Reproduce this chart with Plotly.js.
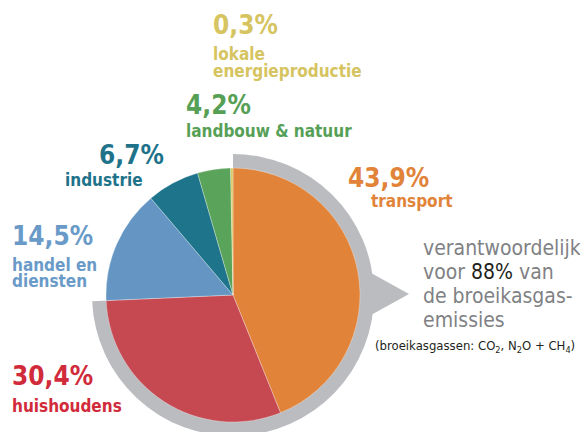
<!DOCTYPE html>
<html>
<head>
<meta charset="utf-8">
<script src="https://cdn.plot.ly/plotly-3.0.1.min.js"></script>
<style>
  html, body { margin: 0; padding: 0; overflow: hidden; background: #ffffff; }
  #chart { width: 580px; height: 440px; }
</style>
</head>
<body>
<div id="chart"></div>
<script>
// ---- data ----
const categories = ['transport', 'huishoudens', 'handel en diensten', 'industrie', 'landbouw & natuur', 'lokale energieproductie'];
const shares = [43.9, 30.4, 14.5, 6.7, 4.2, 0.3];
const pctLabels = ['43,9%', '30,4%', '14,5%', '6,7%', '4,2%', '0,3%'];
const nameLines = [['transport'], ['huishoudens'], ['handel en', 'diensten'], ['industrie'], ['landbouw & natuur'], ['lokale', 'energieproductie']];
const highlightCount = 2; // transport + huishoudens highlighted by grey ring

// ---- styles ----
const sliceColors = ['#E1843A', '#C64952', '#6596C3', '#1E758B', '#59A35A', '#D9C763'];
const textColors  = ['#E1843A', '#D12B3B', '#6A9BC8', '#1E738A', '#56A056', '#D6C460'];
const ringGrey = '#BBBCC0';
const FONT = '"DejaVu Sans Condensed", "DejaVu Sans", sans-serif';

const W = 580, H = 440;
const cx = 233, cy = 295, r = 127, rRing = 141;
const px = x => x / W;
const py = y => 1 - y / H;

// label layout: [x, yPct, yLine1, yLine2...]
const labelPos = [
  {x: 346, xl: 369, yp: 178, yl: [201]},
  {x: 10,  xl: 10,  yp: 376, yl: [406]},
  {x: 10,  xl: 10,  yp: 236, yl: [265, 281]},
  {x: 97,  xl: 63,  yp: 155, yl: [180]},
  {x: 184, xl: 184, yp: 105, yl: [131]},
  {x: 211, xl: 211, yp: 25,  yl: [54, 71]}
];

const ringHighlighted = shares.slice(0, highlightCount).reduce((a, b) => a + b, 0);
const ringRest = shares.slice(highlightCount).reduce((a, b) => a + b, 0);

const traces = [
  {
    type: 'pie',
    values: [ringHighlighted, ringRest],
    labels: ['highlight', 'rest'],
    marker: {colors: [ringGrey, 'rgba(0,0,0,0)'], line: {width: 0}},
    hole: 124 / rRing,
    sort: false, direction: 'clockwise', rotation: 0,
    textinfo: 'none', hoverinfo: 'skip', showlegend: false,
    domain: {x: [px(cx - rRing), px(cx + rRing)], y: [py(cy + rRing), py(cy - rRing)]}
  },
  {
    type: 'pie',
    values: shares,
    labels: categories,
    marker: {colors: sliceColors, line: {color: 'rgba(255,255,255,0.6)', width: 0.5}},
    sort: false, direction: 'clockwise', rotation: 0,
    textinfo: 'none', hoverinfo: 'label+percent', showlegend: false,
    domain: {x: [px(cx - r), px(cx + r)], y: [py(cy + r), py(cy - r)]}
  }
];

const annotations = [];
categories.forEach((c, i) => {
  const p = labelPos[i];
  annotations.push({
    xref: 'paper', yref: 'paper', x: px(p.x), y: py(p.yp),
    xanchor: 'left', yanchor: 'middle', showarrow: false,
    text: '<b>' + pctLabels[i] + '</b>',
    font: {family: FONT, size: 26, color: textColors[i]}
  });
  nameLines[i].forEach((line, j) => {
    annotations.push({
      xref: 'paper', yref: 'paper', x: px(p.xl), y: py(p.yl[j]),
      xanchor: 'left', yanchor: 'middle', showarrow: false,
      text: '<b>' + line + '</b>',
      font: {family: FONT, size: 17, color: textColors[i]}
    });
  });
});

const greyLines = ['verantwoordelijk', 'voor <span style="color:#231F20">88%</span> van', 'de broeikasgas-', 'emissies'];
const greyY = [248, 272, 296, 320];
greyLines.forEach((t, j) => {
  annotations.push({
    xref: 'paper', yref: 'paper', x: px(421), y: py(greyY[j]),
    xanchor: 'left', yanchor: 'middle', showarrow: false,
    text: t, font: {family: FONT, size: 21, color: '#808184'}
  });
});
annotations.push({
  xref: 'paper', yref: 'paper', x: px(373), y: py(346),
  xanchor: 'left', yanchor: 'middle', showarrow: false,
  text: '(broeikasgassen: CO<sub>2</sub>, N<sub>2</sub>O + CH<sub>4</sub>)',
  font: {family: FONT, size: 13, color: '#231F20'}
});

const pointer = {
  type: 'path', xref: 'paper', yref: 'paper', layer: 'below',
  path: `M ${px(362)} ${py(268)} L ${px(409)} ${py(294)} L ${px(362)} ${py(320)} Z`,
  fillcolor: ringGrey, line: {width: 0}
};

const layout = {
  width: W, height: H,
  margin: {l: 0, r: 0, t: 0, b: 0},
  paper_bgcolor: '#ffffff', plot_bgcolor: '#ffffff',
  showlegend: false,
  annotations: annotations,
  shapes: [pointer]
};

Plotly.newPlot('chart', traces, layout, {displayModeBar: false, staticPlot: true});
</script>
</body>
</html>
